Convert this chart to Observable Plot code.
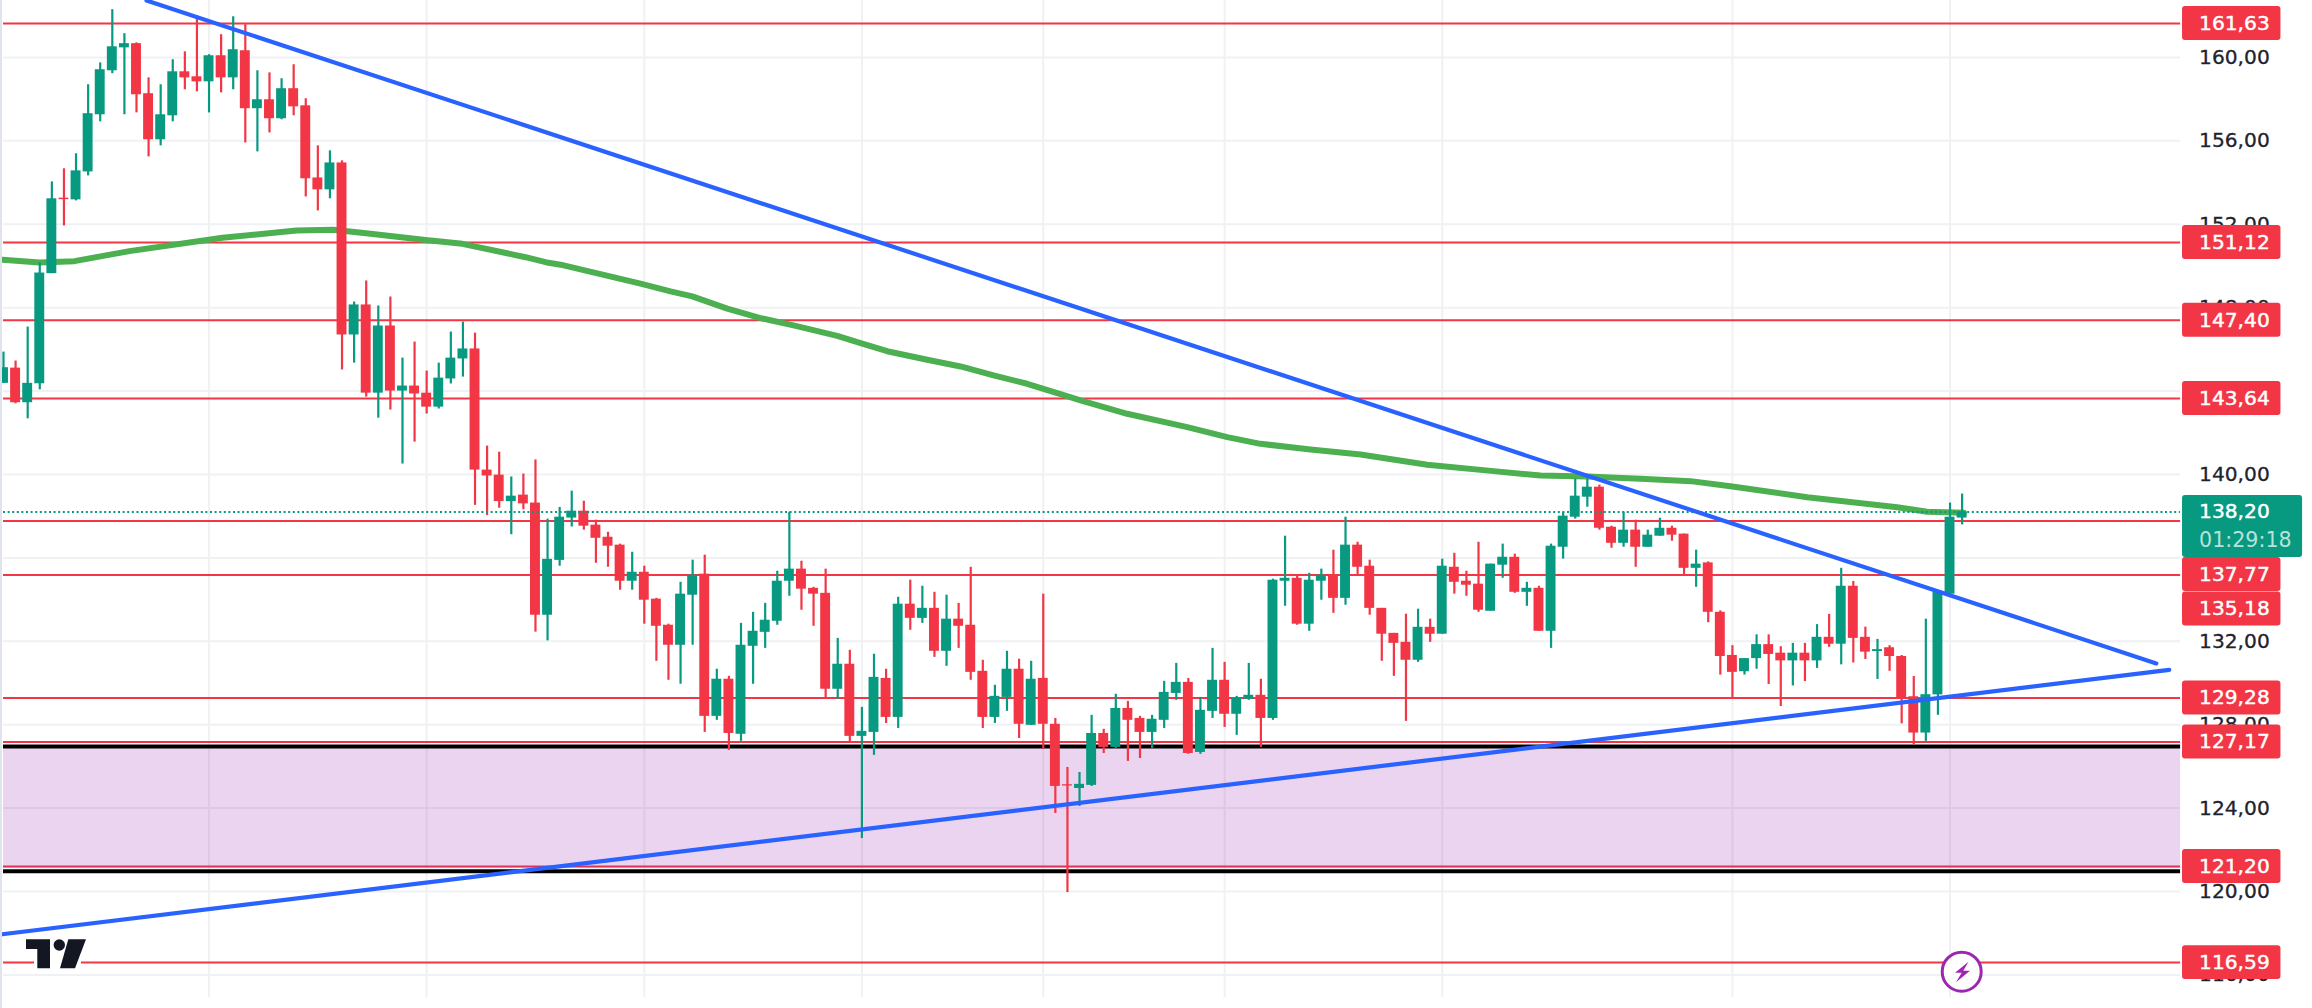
<!DOCTYPE html>
<html>
<head>
<meta charset="utf-8">
<style>
html,body{margin:0;padding:0;background:#fff;overflow:hidden}
#wrap{position:relative;width:2312px;height:1008px}
#wrap svg{display:block}
#deco{position:absolute;left:0;top:0;pointer-events:none}
</style>
<script src="https://cdn.jsdelivr.net/npm/d3@7"></script>
<script src="https://cdn.jsdelivr.net/npm/@observablehq/plot@0.6"></script>
</head>
<body>
<div id="wrap"></div>
<script>
const opens = [144.37,145.10,143.44,144.35,149.63,153.25,153.17,154.51,157.25,159.36,
160.46,160.66,158.26,156.05,157.20,159.31,159.07,158.83,160.08,159.02,
160.32,157.54,157.97,157.06,158.50,157.68,154.22,153.65,154.94,146.69,
148.13,143.90,147.12,144.00,144.24,143.90,143.23,144.58,145.54,146.02,
140.21,139.97,138.70,139.01,138.63,133.25,135.88,137.91,138.24,137.57,
136.99,136.61,134.88,135.31,134.02,132.77,131.81,134.21,135.22,128.40,
130.18,127.54,131.76,132.43,132.96,134.88,135.46,134.54,134.30,129.70,
130.90,127.44,127.63,130.22,128.35,133.78,133.10,133.58,131.52,133.06,
132.77,130.56,128.35,129.31,130.66,127.97,130.22,128.02,125.12,124.94,
125.09,127.58,126.91,128.78,128.30,127.63,128.21,129.50,130.03,126.67,
128.64,130.13,128.50,129.22,129.41,128.30,134.88,135.02,132.82,134.88,
135.17,134.06,136.61,135.60,133.58,132.38,131.95,131.09,132.67,132.34,
135.55,134.88,134.74,133.44,135.65,136.03,134.35,134.54,132.48,136.51,
137.95,138.91,139.39,137.47,136.70,137.33,136.51,137.04,137.42,137.14,
135.50,135.76,133.39,131.32,130.54,131.17,131.84,131.43,131.06,131.43,
131.06,132.19,131.86,134.64,132.19,131.51,131.69,131.27,129.34,127.60,
129.43,134.26,137.91];
const closes = [145.12,143.44,144.37,149.66,153.22,153.18,154.56,157.30,159.41,160.51,
160.66,158.21,156.05,157.25,159.31,159.02,158.83,160.08,159.02,160.37,
157.54,157.97,157.06,158.50,157.63,154.18,153.65,154.94,146.69,148.13,
143.90,147.12,144.00,144.24,143.86,143.23,144.62,145.58,146.02,140.21,
139.93,138.70,138.96,138.59,133.25,135.93,137.95,138.24,137.52,136.94,
136.56,134.88,135.31,133.97,132.72,131.81,134.26,135.17,128.40,130.18,
127.58,131.81,132.48,133.01,134.88,135.46,134.50,134.26,129.70,130.90,
127.44,127.68,130.27,128.35,133.78,133.10,133.58,131.52,133.06,132.72,
130.51,128.35,129.36,130.66,128.02,130.18,128.02,125.04,125.06,125.14,
127.58,126.91,128.78,128.21,127.63,128.26,129.55,130.03,126.62,128.69,
130.13,128.50,129.26,129.41,128.30,134.93,135.02,132.82,134.93,135.17,
134.06,136.61,135.55,133.58,132.34,131.90,131.09,132.67,132.34,135.60,
134.83,134.69,133.49,135.70,136.03,134.35,134.54,132.48,136.56,138.00,
138.96,139.39,137.42,136.70,137.33,136.51,137.09,137.42,137.09,135.50,
135.70,133.39,131.27,130.51,131.17,131.84,131.37,131.06,131.43,131.06,
132.19,131.86,134.64,132.14,131.48,131.60,131.27,129.29,127.60,129.44,
134.35,137.95,138.20];
const highs = [145.87,145.44,147.07,150.14,154.03,154.66,155.38,158.69,159.74,162.29,
161.14,160.70,159.02,158.69,159.89,160.27,162.00,160.13,161.09,161.95,
161.57,159.36,159.26,158.98,159.65,158.02,155.76,155.52,155.04,148.27,
149.28,148.08,148.51,145.58,146.35,144.96,145.34,146.83,147.31,146.78,
141.36,141.07,139.88,140.02,140.70,137.86,138.42,139.20,138.72,137.81,
137.23,136.66,136.27,135.60,134.06,132.82,134.83,135.89,136.13,130.66,
130.32,132.86,133.39,133.82,135.36,138.19,135.84,134.59,135.46,132.14,
131.57,128.83,131.38,130.66,134.11,134.93,134.64,134.35,134.21,133.82,
135.55,131.09,129.89,131.52,131.14,131.04,134.26,128.30,125.95,125.71,
128.45,127.78,129.46,129.12,128.40,128.45,130.08,130.94,130.22,129.31,
131.66,130.99,129.36,130.94,130.18,134.98,137.04,135.12,135.26,135.46,
136.37,137.95,136.75,135.89,133.58,132.38,133.30,133.54,133.06,135.94,
136.22,135.36,136.75,135.70,136.66,136.18,134.83,134.64,136.66,138.19,
139.78,139.78,139.49,137.52,138.19,137.81,137.33,137.90,137.52,137.14,
136.37,135.81,133.46,131.79,131.17,132.31,132.31,131.74,131.90,131.90,
132.80,133.29,135.50,134.87,132.68,132.09,131.79,131.32,130.31,133.06,
134.35,138.63,139.06];
const lows = [144.37,143.39,142.67,144.06,149.63,151.92,153.12,154.32,156.91,159.22,
157.25,157.34,155.23,155.76,156.91,158.45,158.35,157.34,158.30,158.45,
155.90,155.47,156.38,157.01,157.20,153.31,152.64,153.22,145.01,145.34,
143.71,142.70,143.09,140.50,141.55,142.90,143.14,144.34,144.67,138.52,
138.03,138.38,137.11,138.31,132.44,132.02,135.60,137.48,137.33,135.74,
135.55,134.45,134.45,132.82,131.04,130.13,129.94,131.81,127.63,128.21,
126.77,127.20,129.94,131.66,132.77,134.16,133.49,132.72,129.22,129.22,
127.10,122.54,126.53,128.06,127.82,132.53,132.86,131.23,130.80,131.66,
130.13,127.82,128.06,128.64,127.34,127.97,126.82,123.74,119.95,124.08,
125.04,126.62,126.86,126.24,126.38,126.86,127.82,129.17,126.58,126.58,
128.30,127.87,127.49,129.17,126.91,128.21,133.68,132.77,132.48,133.97,
133.34,133.73,135.12,133.25,131.04,130.32,128.16,130.99,131.95,132.34,
134.26,134.16,133.39,133.44,135.02,134.30,133.68,132.48,131.66,135.94,
137.86,138.43,137.33,136.46,136.51,135.55,136.51,137.04,136.80,135.12,
134.59,132.89,130.38,129.29,130.38,130.66,129.93,128.87,129.86,130.07,
130.70,131.71,130.87,130.96,131.13,130.17,130.56,128.04,127.03,127.20,
128.45,134.26,137.58];

const maIndex = [-0.08,2.98,5.87,10.42,18.11,24.23,27.30,30.36,34.90,37.96,43.18,45.08,46.07,52.69,55.17,56.97,59.86,62.61,65.34,68.96,70.89,73.09,76.40,79.16,81.89,84.67,87.43,89.08,92.94,97.91,101.22,103.97,108.11,112.24,117.76,123.25,127.13,130.99,135.40,139.54,142.99,149.19,156.63,159.11,162.14];
const maValue = [150.30,150.17,150.23,150.71,151.35,151.70,151.74,151.54,151.24,151.06,150.42,150.15,150.06,149.15,148.78,148.54,147.95,147.50,147.15,146.65,146.30,145.91,145.50,145.18,144.75,144.35,143.85,143.55,142.91,142.27,141.79,141.47,141.20,140.96,140.47,140.16,139.95,139.90,139.79,139.68,139.42,138.91,138.43,138.21,138.16];

const downTrend = [[11.83,162.73],[178.06,130.94]];
const upTrend = [[-0.1,117.95],[179.13,130.63]];

const levels = [161.63,151.12,147.40,143.64,137.77,135.18,129.28,127.17,121.20,116.59];
const levelLabels = ["161,63","151,12","147,40","143,64","137,77","135,18","129,28","127,17","121,20","116,59"];
const levelLabelAt = [161.63,151.12,147.40,143.64,135.20,133.55,129.28,127.17,121.20,116.59];
const zoneTop = 126.96, zoneBottom = 120.97, zoneFillBottom = 121.10;
const lastPrice = 138.20;
const lastPriceLabel = "138,20";
const countdownLabel = "01:29:18";

const yTicks = [116,120,124,128,132,136,140,144,148,152,156,160];
const yTickLabelValues = [116,120,124,128,132,140,148,152,156,160];
const yTickLabels = ["116,00","120,00","124,00","128,00","132,00","140,00","148,00","152,00","156,00","160,00"];
const xGridIndex = [17,35,53,71,86,101,119,143,161];

const paneEnd = 180.07, paneBottom = 114.91, labelLeft = 180.23, labelRight = 188.37, priceRight = 190.16, labelText = 181.6;
const boxHalf = 0.815, bodyHalf = 0.41;

const RED = "#f23645", GREEN = "#089981", MA = "#4caf50", BLUE = "#2962ff", GRID = "#f0f1f4", INK = "#1f232e";
const FONT = "'DejaVu Sans', Verdana, sans-serif";

const candles = opens.map((o,i)=>({i,o,c:closes[i],h:highs[i],l:lows[i]}));
const up = candles.filter(d=>d.c>=d.o), down = candles.filter(d=>d.c<d.o);
const ma = maIndex.map((x,k)=>({x,y:maValue[k]}));
const lv = levels.map((v,k)=>({v,label:levelLabels[k],at:levelLabelAt[k]}));
const ticks = yTickLabelValues.map((v,k)=>({v,label:yTickLabels[k]}));
const bodyMark = (data,fill)=>Plot.rectY(data,{x1:d=>d.i-bodyHalf,x2:d=>d.i+bodyHalf,y1:d=>Math.min(d.o,d.c),y2:d=>Math.max(d.o,d.c),fill,inset:0});

const chart = Plot.plot({
  width:2312,height:1008,
  marginTop:0,marginRight:0,marginBottom:0,marginLeft:0,
  style:{background:"#fff",fontFamily:FONT},
  x:{axis:null,domain:[-0.248,190.98]},
  y:{axis:null,domain:[114.39,162.73]},
  marks:[
    Plot.ruleX(xGridIndex,{x:d=>d,y1:paneBottom,y2:162.73,stroke:GRID,strokeWidth:2}),
    Plot.ruleY(yTicks,{y:d=>d,x1:0,x2:paneEnd,stroke:GRID,strokeWidth:2}),
    Plot.ruleY(levels,{y:d=>d,x1:0,x2:paneEnd,stroke:RED,strokeWidth:2}),
    Plot.rect([0],{x1:0,x2:paneEnd,y1:zoneFillBottom,y2:zoneTop,fill:"#9c27b0",fillOpacity:0.2}),
    Plot.ruleY([zoneTop,zoneBottom],{y:d=>d,x1:0,x2:paneEnd,stroke:"#000",strokeWidth:4}),
    Plot.line(ma,{x:"x",y:"y",stroke:MA,strokeWidth:6,curve:"linear"}),
    Plot.ruleX(up,{x:"i",y1:"l",y2:"h",stroke:GREEN,strokeWidth:2.2}),
    Plot.ruleX(down,{x:"i",y1:"l",y2:"h",stroke:RED,strokeWidth:2.2}),
    bodyMark(up,GREEN),
    bodyMark(down,RED),
    Plot.ruleY([lastPrice],{y:d=>d,x1:0,x2:paneEnd,stroke:GREEN,strokeWidth:2,strokeDasharray:"2,2.6"}),
    Plot.line(downTrend,{x:d=>d[0],y:d=>d[1],stroke:BLUE,strokeWidth:4.2,strokeLinecap:"round"}),
    Plot.line(upTrend,{x:d=>d[0],y:d=>d[1],stroke:BLUE,strokeWidth:4.2,strokeLinecap:"round"}),
    Plot.text(ticks,{x:labelText,y:"v",text:"label",fill:INK,stroke:INK,strokeWidth:0.3,fontSize:20.2,textAnchor:"start",lineAnchor:"middle"}),
    Plot.rect([0],{x1:labelLeft,x2:priceRight,y1:136.02,y2:138.99,fill:GREEN,rx:3}),
    Plot.text([lastPriceLabel],{x:labelText,y:138.2,text:d=>d,fill:"#fff",stroke:"#fff",strokeWidth:0.45,fontSize:20.2,textAnchor:"start",lineAnchor:"middle"}),
    Plot.text([countdownLabel],{x:labelText,y:136.85,text:d=>d,fill:"#fff",fillOpacity:0.72,fontSize:20.6,textAnchor:"start",lineAnchor:"middle"}),
    Plot.rect(lv,{x1:labelLeft,x2:labelRight,y1:d=>d.at-boxHalf,y2:d=>d.at+boxHalf,fill:RED,rx:3}),
    Plot.text(lv,{x:labelText,y:"at",text:"label",fill:"#fff",stroke:"#fff",strokeWidth:0.45,fontSize:20.2,textAnchor:"start",lineAnchor:"middle"})
  ]
});
document.getElementById("wrap").appendChild(chart);

// Decoration only: pane border, watermark logo and the lightning badge.
const deco = document.createElementNS("http://www.w3.org/2000/svg","svg");
deco.setAttribute("id","deco");deco.setAttribute("width","2312");deco.setAttribute("height","1008");
deco.innerHTML = `
<rect x="0" y="0" width="2" height="1008" fill="#dfe3ee"/>
<rect x="34" y="936" width="47" height="34" fill="#fff"/>
<path d="M26 939.3H50V968.3H37.3V949H26Z" fill="#131722"/>
<circle cx="59.3" cy="945" r="5.7" fill="#131722"/>
<path d="M68.3 939.3H86L75 968.3H60Z" fill="#131722"/>
<circle cx="1961.7" cy="971.7" r="19.5" fill="#fff" stroke="#9c27b0" stroke-width="3"/>
<path d="M1968.5 961.7L1955 972.7H1961.7L1956 982.3L1970 970.7H1963.3Z" fill="#9c27b0"/>`;
document.getElementById("wrap").appendChild(deco);
</script>
</body>
</html>
